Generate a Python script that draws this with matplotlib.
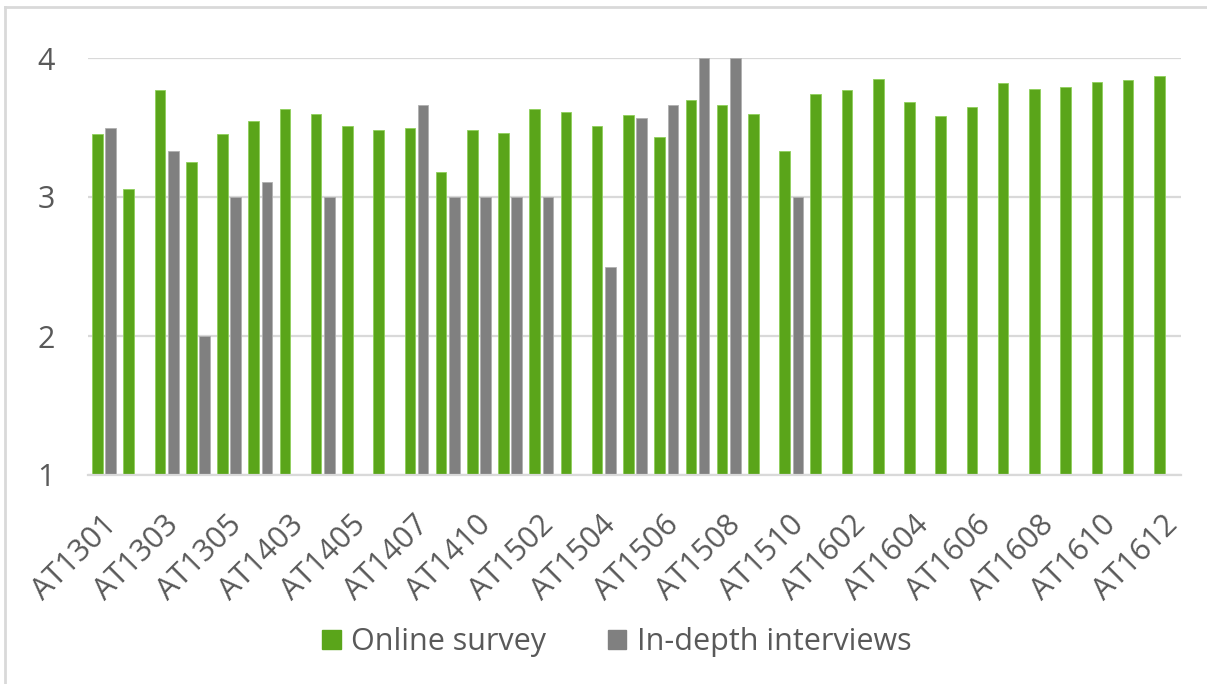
import numpy as np
import matplotlib
matplotlib.use("Agg")
import matplotlib.pyplot as plt
from matplotlib.lines import Line2D
from matplotlib.transforms import ScaledTranslation

categories = ["AT1301", "AT1302", "AT1303", "AT1304", "AT1305", "AT1401", "AT1403",
              "AT1404", "AT1405", "AT1406", "AT1407", "AT1409", "AT1410", "AT1501",
              "AT1502", "AT1503", "AT1504", "AT1505", "AT1506", "AT1507", "AT1508",
              "AT1509", "AT1510", "AT1601", "AT1602", "AT1603", "AT1604", "AT1605",
              "AT1606", "AT1607", "AT1608", "AT1609", "AT1610", "AT1611", "AT1612"]

online_survey = [3.45, 3.06, 3.77, 3.25, 3.45, 3.55, 3.63, 3.60, 3.51, 3.48,
                 3.50, 3.18, 3.48, 3.46, 3.63, 3.61, 3.51, 3.59, 3.43, 3.70,
                 3.66, 3.60, 3.33, 3.74, 3.77, 3.85, 3.68, 3.58, 3.65, 3.82,
                 3.78, 3.79, 3.83, 3.84, 3.87]

nan = np.nan
indepth_interviews = [3.50, nan, 3.33, 2.00, 3.00, 3.11, nan, 3.00, nan, nan,
                      3.66, 3.00, 3.00, 3.00, 3.00, nan, 2.50, 3.57, 3.66, 4.00,
                      4.00, nan, 3.00, nan, nan, nan, nan, nan, nan, nan,
                      nan, nan, nan, nan, nan]

series_names = ["Online survey", "In-depth interviews"]

GREEN = "#5aa51a"
GRAY = "#808080"
TEXT = "#595959"
GRID = "#d9d9d9"
FONT = ["Open Sans", "DejaVu Sans"]

plt.rcParams["font.family"] = FONT

fig = plt.figure(figsize=(12.07, 6.84), dpi=100)
ax = fig.add_axes([88 / 1207, 1 - 475 / 684, (1181 - 88) / 1207, (475 - 58) / 684])

x = np.arange(len(categories))
bw = 0.34
base = 1.0
g = np.array(online_survey)
d = np.array(indepth_interviews, dtype=float)
ax.bar(x - 0.195, g - base, bottom=base, width=bw, color=GREEN,
       edgecolor="#8fcf5a", linewidth=0.6, zorder=3)
ax.bar(x + 0.23, d - base, bottom=base, width=bw, color=GRAY,
       edgecolor="#b0b0b0", linewidth=0.6, zorder=3)

ax.set_xlim(-0.5, len(categories) - 0.5)
ax.set_ylim(1, 4)
ax.set_yticks([1, 2, 3, 4])
ax.set_yticklabels(["1", "2", "3", "4"])
ax.yaxis.grid(True, color=GRID, linewidth=1.6, zorder=0)
ax.set_axisbelow(True)
for s in ["left", "right", "top"]:
    ax.spines[s].set_visible(False)
ax.spines["bottom"].set_color(GRID)
ax.spines["bottom"].set_linewidth(1.6)
ax.spines["bottom"].set_zorder(4)

ax.set_xticks(x[::2])
ax.set_xticklabels(categories[::2], rotation=45, ha="right", va="center",
                   rotation_mode="anchor")
ax.tick_params(axis="x", length=0, pad=33, labelsize=22, labelcolor=TEXT)
ax.tick_params(axis="y", length=0, pad=24, labelsize=22, labelcolor=TEXT)
offset = ScaledTranslation(6 / 72, 0, fig.dpi_scale_trans)
for lab in ax.get_xticklabels():
    lab.set_transform(lab.get_transform() + offset)

handles = [plt.Rectangle((0, 0), 1, 1, color=GREEN),
           plt.Rectangle((0, 0), 1, 1, color=GRAY)]
fig.legend(handles, series_names, loc="center", bbox_to_anchor=(0.511, 0.061),
           ncol=2, frameon=False, fontsize=22, labelcolor=TEXT,
           handlelength=0.62, handleheight=0.62, handletextpad=0.35,
           columnspacing=2.0)

# light border at top and left (screenshot frame)
fig.add_artist(Line2D([5 / 1207, 5 / 1207], [0, 1 - 7 / 684], transform=fig.transFigure,
                      color=GRID, linewidth=2))
fig.add_artist(Line2D([5 / 1207, 1], [1 - 7 / 684, 1 - 7 / 684], transform=fig.transFigure,
                      color=GRID, linewidth=2))

fig.savefig("out.png", dpi=100, facecolor="white")
